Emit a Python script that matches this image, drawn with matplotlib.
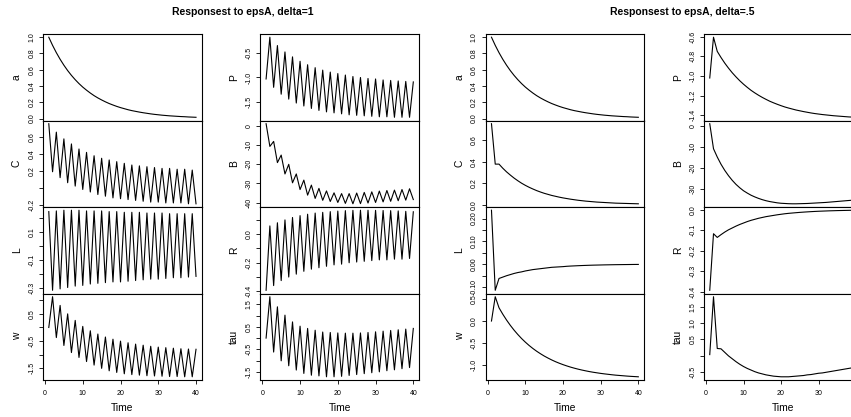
import matplotlib
matplotlib.use("Agg")
import matplotlib.pyplot as plt

plt.rcParams['font.family'] = ['Liberation Sans', 'DejaVu Sans']
plt.rcParams['axes.unicode_minus'] = False

time = list(range(1, 41))

# --- delta = 1 ---
a_1 = [1.00, 0.90, 0.81, 0.729, 0.656, 0.590, 0.531, 0.478, 0.430, 0.387,
       0.349, 0.314, 0.282, 0.254, 0.229, 0.206, 0.185, 0.167, 0.150, 0.135,
       0.122, 0.109, 0.098, 0.089, 0.080, 0.072, 0.065, 0.058, 0.052, 0.047,
       0.042, 0.038, 0.034, 0.031, 0.028, 0.025, 0.023, 0.020, 0.018, 0.016]
C_1 = [0.76, 0.19, 0.66, 0.12, 0.58, 0.06, 0.52, 0.02, 0.46, -0.02,
       0.42, -0.05, 0.38, -0.08, 0.35, -0.10, 0.33, -0.12, 0.31, -0.13,
       0.29, -0.14, 0.27, -0.15, 0.26, -0.16, 0.25, -0.17, 0.24, -0.17,
       0.23, -0.18, 0.23, -0.18, 0.22, -0.18, 0.22, -0.19, 0.21, -0.19]
L_1 = [0.245, -0.32, 0.25, -0.31, 0.255, -0.30, 0.255, -0.29, 0.255, -0.285,
       0.25, -0.275, 0.25, -0.27, 0.25, -0.265, 0.245, -0.26, 0.245, -0.26,
       0.24, -0.255, 0.24, -0.25, 0.24, -0.245, 0.235, -0.24, 0.235, -0.24,
       0.235, -0.235, 0.23, -0.23, 0.23, -0.23, 0.23, -0.225, 0.23, -0.22]
w_1 = [0.0, 1.13, -0.37, 0.81, -0.66, 0.50, -0.92, 0.26, -1.10, 0.04,
       -1.25, -0.12, -1.38, -0.24, -1.50, -0.35, -1.59, -0.43, -1.65, -0.50,
       -1.70, -0.56, -1.73, -0.61, -1.75, -0.65, -1.77, -0.69, -1.78, -0.72,
       -1.79, -0.74, -1.80, -0.76, -1.80, -0.78, -1.81, -0.79, -1.81, -0.80]
P_1 = [-1.03, -0.18, -1.20, -0.35, -1.34, -0.48, -1.44, -0.58, -1.52, -0.67,
       -1.58, -0.74, -1.63, -0.80, -1.67, -0.85, -1.70, -0.89, -1.72, -0.92,
       -1.74, -0.95, -1.76, -0.98, -1.77, -1.00, -1.78, -1.02, -1.79, -1.03,
       -1.80, -1.05, -1.80, -1.06, -1.81, -1.07, -1.81, -1.08, -1.81, -1.09]
B_1 = [1.0, -10.8, -8.2, -19.2, -15.3, -25.1, -20.1, -29.7, -25.1, -33.2,
       -28.3, -36.1, -30.9, -37.8, -32.6, -38.8, -33.9, -39.4, -34.9, -39.9,
       -35.3, -40.4, -35.3, -40.6, -35.0, -40.5, -34.7, -40.2, -34.4, -39.9,
       -34.0, -39.6, -33.7, -39.3, -33.5, -39.0, -33.2, -38.7, -32.8, -38.4]
R_1 = [-0.393, 0.058, -0.36, 0.08, -0.325, 0.10, -0.30, 0.117, -0.28, 0.13,
       -0.26, 0.14, -0.245, 0.148, -0.235, 0.153, -0.225, 0.158, -0.215, 0.162,
       -0.21, 0.165, -0.20, 0.167, -0.195, 0.168, -0.19, 0.168, -0.185, 0.167,
       -0.18, 0.166, -0.18, 0.165, -0.175, 0.163, -0.175, 0.16, -0.17, 0.157]
tau_1 = [0.0, 1.84, -0.62, 1.39, -1.01, 1.02, -1.23, 0.72, -1.42, 0.53,
         -1.57, 0.43, -1.65, 0.35, -1.68, 0.27, -1.72, 0.25, -1.72, 0.23,
         -1.70, 0.22, -1.66, 0.22, -1.62, 0.23, -1.58, 0.25, -1.54, 0.28,
         -1.50, 0.31, -1.45, 0.34, -1.41, 0.37, -1.36, 0.40, -1.31, 0.43]

# --- delta = .5 ---
a_5 = list(a_1)
C_5 = [0.755, 0.378, 0.378, 0.340, 0.306, 0.276, 0.248, 0.223, 0.200, 0.180,
       0.162, 0.146, 0.131, 0.118, 0.106, 0.096, 0.086, 0.078, 0.070, 0.063,
       0.057, 0.051, 0.046, 0.041, 0.037, 0.033, 0.030, 0.027, 0.024, 0.022,
       0.020, 0.018, 0.016, 0.014, 0.013, 0.012, 0.011, 0.010, 0.009, 0.008]
L_5 = [0.237, -0.115, -0.063, -0.057, -0.051, -0.046, -0.041, -0.037, -0.034, -0.030,
       -0.027, -0.024, -0.022, -0.020, -0.018, -0.016, -0.014, -0.013, -0.012, -0.011,
       -0.0095, -0.0085, -0.0077, -0.0069, -0.0062, -0.0056, -0.0050, -0.0045, -0.0041, -0.0037,
       -0.0033, -0.0030, -0.0027, -0.0024, -0.0022, -0.0020, -0.0018, -0.0016, -0.0014, -0.0013]
w_5 = [0.0, 0.55, 0.30, 0.155, 0.023, -0.097, -0.206, -0.305, -0.396, -0.478,
       -0.553, -0.621, -0.683, -0.739, -0.791, -0.837, -0.880, -0.919, -0.954, -0.986,
       -1.015, -1.042, -1.066, -1.088, -1.108, -1.126, -1.143, -1.158, -1.171, -1.184,
       -1.195, -1.205, -1.215, -1.224, -1.231, -1.238, -1.245, -1.251, -1.256, -1.261]
P_5 = [-1.02, -0.606, -0.750, -0.812, -0.869, -0.920, -0.967, -1.009, -1.048, -1.083,
       -1.115, -1.145, -1.171, -1.195, -1.217, -1.237, -1.256, -1.272, -1.287, -1.301,
       -1.314, -1.325, -1.335, -1.345, -1.353, -1.361, -1.368, -1.375, -1.381, -1.386,
       -1.391, -1.395, -1.399, -1.403, -1.406, -1.409, -1.412, -1.415, -1.417, -1.419]
B_5 = [0.9, -10.9, -14.8, -18.2, -21.1, -23.6, -25.8, -27.7, -29.3, -30.7,
       -31.8, -32.8, -33.6, -34.3, -34.9, -35.4, -35.8, -36.1, -36.4, -36.6,
       -36.7, -36.8, -36.85, -36.85, -36.8, -36.75, -36.7, -36.6, -36.5, -36.4,
       -36.3, -36.2, -36.05, -35.9, -35.75, -35.6, -35.45, -35.3, -35.15, -35.0]
R_5 = [-0.392, -0.117, -0.135, -0.1215, -0.109, -0.098, -0.089, -0.080, -0.072, -0.065,
       -0.058, -0.052, -0.047, -0.042, -0.038, -0.034, -0.031, -0.028, -0.025, -0.0225,
       -0.020, -0.018, -0.0164, -0.0148, -0.0133, -0.0120, -0.0108, -0.0097, -0.0087, -0.0078,
       -0.0071, -0.0064, -0.0057, -0.0052, -0.0046, -0.0042, -0.0038, -0.0034, -0.0030, -0.0027]
tau_5 = [0.03, 1.83, 0.22, 0.21, 0.10, -0.01, -0.10, -0.19, -0.27, -0.34,
         -0.40, -0.45, -0.50, -0.54, -0.57, -0.60, -0.62, -0.64, -0.65, -0.66,
         -0.66, -0.66, -0.65, -0.64, -0.63, -0.62, -0.60, -0.59, -0.57, -0.55,
         -0.54, -0.52, -0.50, -0.48, -0.46, -0.44, -0.42, -0.40, -0.38, -0.36]

x_ticks = [0, 10, 20, 30, 40]

# y ticks per panel (value, label); empty label = tick without text
yt_1 = {
    "a": ([0, 0.2, 0.4, 0.6, 0.8, 1.0], ["0.0", "0.2", "0.4", "0.6", "0.8", "1.0"]),
    "C": ([-0.2, 0, 0.2, 0.4, 0.6], ["-0.2", "", "0.2", "0.4", "0.6"]),
    "L": ([-0.3, -0.2, -0.1, 0, 0.1, 0.2], ["-0.3", "", "-0.1", "", "0.1", ""]),
    "w": ([-1.5, -1.0, -0.5, 0, 0.5, 1.0], ["-1.5", "", "-0.5", "", "0.5", ""]),
    "P": ([-1.5, -1.0, -0.5], ["-1.5", "-1.0", "-0.5"]),
    "B": ([-40, -30, -20, -10, 0], ["-40", "-30", "-20", "-10", "0"]),
    "R": ([-0.4, -0.3, -0.2, -0.1, 0, 0.1], ["-0.4", "", "-0.2", "", "0.0", ""]),
    "tau": ([-1.5, -1, -0.5, 0, 0.5, 1, 1.5], ["-1.5", "", "-0.5", "", "0.5", "", "1.5"]),
}
yt_5 = {
    "a": ([0, 0.2, 0.4, 0.6, 0.8, 1.0], ["0.0", "0.2", "0.4", "0.6", "0.8", "1.0"]),
    "C": ([0, 0.2, 0.4, 0.6], ["0.0", "0.2", "0.4", "0.6"]),
    "L": ([-0.10, -0.05, 0, 0.05, 0.10, 0.15, 0.20], ["-0.10", "", "0.00", "", "0.10", "", "0.20"]),
    "w": ([-1.0, -0.5, 0, 0.5], ["-1.0", "-0.5", "0.0", "0.5"]),
    "P": ([-1.4, -1.2, -1.0, -0.8, -0.6], ["-1.4", "-1.2", "-1.0", "-0.8", "-0.6"]),
    "B": ([-30, -20, -10, 0], ["-30", "-20", "-10", "0"]),
    "R": ([-0.4, -0.3, -0.2, -0.1, 0.0], ["-0.4", "-0.3", "-0.2", "-0.1", "0.0"]),
    "tau": ([-0.5, 0, 0.5, 1.0, 1.5], ["-0.5", "", "0.5", "1.0", "1.5"]),
}

series_1 = {"a": a_1, "C": C_1, "L": L_1, "w": w_1, "P": P_1, "B": B_1, "R": R_1, "tau": tau_1}
series_5 = {"a": a_5, "C": C_5, "L": L_5, "w": w_5, "P": P_5, "B": B_5, "R": R_5, "tau": tau_5}
col_names = [["a", "C", "L", "w"], ["P", "B", "R", "tau"]]

W, H = 851, 417
fig = plt.figure(figsize=(W / 100, H / 100), dpi=100)

rows_px = [34, 120.5, 207, 293.5, 380]
blocks = [
    ("Responsest to epsA, delta=1", series_1, yt_1, [(42.9, 201.9), (260.2, 419.2)], 243),
    ("Responsest to epsA, delta=.5", series_5, yt_5, [(485.6, 644.2), (703.9, 861.9)], 682.5),
]

for title, series, yticks, cols, title_x in blocks:
    fig.text(title_x / W, 1 - 12 / H, title, ha="center", va="center",
             fontsize=7.5, fontweight="bold")
    for ci, (x0, x1) in enumerate(cols):
        for ri, name in enumerate(col_names[ci]):
            y0, y1 = rows_px[ri], rows_px[ri + 1]
            ax = fig.add_axes([x0 / W, 1 - y1 / H, (x1 - x0) / W, (y1 - y0) / H])
            ax.plot(time, series[name], color="black", lw=0.8)
            ax.margins(x=0.04, y=0.04)
            for s in ax.spines.values():
                s.set_linewidth(0.8)
            tv, tl = yticks[name]
            ax.set_yticks(tv)
            ax.set_yticklabels(tl, rotation=90, va="center", fontsize=5.0)
            ax.tick_params(axis="y", length=3, width=0.6, pad=2.5)
            ax.set_ylabel(name, fontsize=7.4)
            ax.yaxis.set_label_coords(-21 / (x1 - x0), 0.5)
            if ri == 3:
                # the last column runs past the picture edge, so its 40 is not shown
                xt = x_ticks if x1 <= W else x_ticks[:-1]
                ax.set_xticks(xt)
                ax.set_xticklabels([str(v) for v in xt], fontsize=5.0)
                ax.tick_params(axis="x", length=3, width=0.6, pad=4)
                ax.set_xlabel("Time", fontsize=7.4)
                ax.xaxis.set_label_coords(0.5, -23 / (y1 - y0))
            else:
                ax.set_xticks([])

fig.savefig("out.png", dpi=100)
